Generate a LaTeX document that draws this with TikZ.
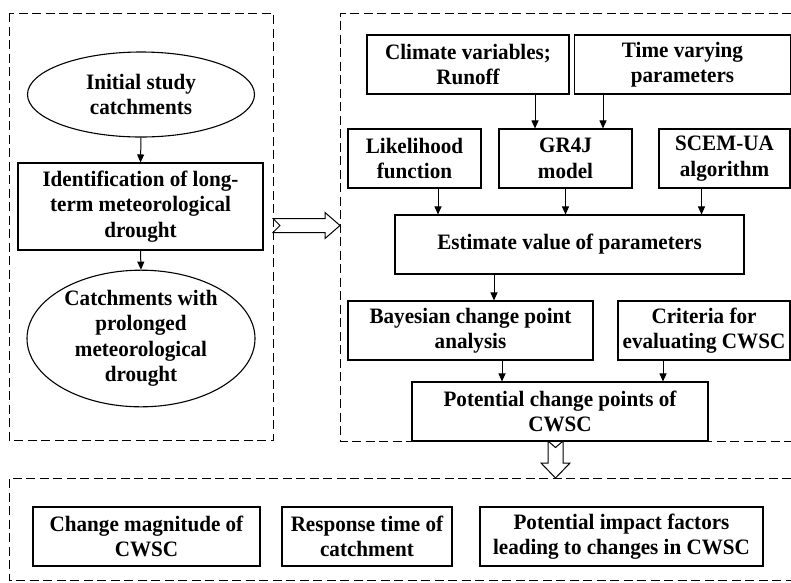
\documentclass[tikz,border=0pt]{standalone}
\usepackage{fontspec}
\setmainfont{Liberation Serif}[FakeStretch=0.96]
\usetikzlibrary{shapes.geometric,arrows.meta,calc}
\begin{document}
\begin{tikzpicture}[x=1pt,y=-1pt,
  every node/.style={font=\bfseries\fontsize{22}{25.5}\selectfont, align=center, inner sep=0pt},
  bx/.style={draw, line width=1.1pt, rectangle},
  el/.style={draw, line width=1.1pt, ellipse},
  grp/.style={draw, line width=1pt, dash pattern=on 9pt off 4.5pt},
  arr/.style={draw, line width=1pt, -{Triangle[length=8pt,width=7pt]}},
  hol/.style={draw, line width=1pt, fill=white, line join=miter}]
\useasboundingbox (0,0) rectangle (791,582);
% group frames
\draw[grp] (9,13) rectangle (273,440);
\draw[grp] (791,13) -| (340,441) -- (791,441);
\draw[grp] (791,478) -| (9,580) -- (791,580);
% left column
\node[el, minimum width=227pt, minimum height=85pt] (e1) at (141,94.5) {Initial study\\catchments};
\node[bx, minimum width=245pt, minimum height=87pt] (b1) at (140.5,206.5) {Identification of long-\\term meteorological\\drought};
\node[el, minimum width=228pt, minimum height=123pt] (e2) at (141,338.5) {Catchments with\\prolonged\\meteorological\\drought};
\draw[arr] (e1.south) -- (b1.north);
\draw[arr] (b1.south) -- (e2.north);
% right column
\node[bx, minimum width=202pt, minimum height=59pt] (clim) at (468,64.5) {Climate variables;\\Runoff};
\node[bx, minimum width=216pt, minimum height=59pt] (time) at (682.5,64.5) {Time varying\\parameters};
\node[bx, minimum width=133pt, minimum height=59pt] (like) at (414.5,158.5) {Likelihood\\function};
\node[bx, minimum width=133pt, minimum height=59pt] (gr) at (565.5,158.5) {GR4J\\model};
\node[bx, minimum width=131pt, minimum height=59pt] (scem) at (724.5,158.5) {SCEM-UA\\algorithm};
\node[bx, minimum width=349pt, minimum height=59pt] (est) at (569.5,244.5) {Estimate value of parameters};
\node[bx, minimum width=245pt, minimum height=59pt] (bay) at (470.5,330.5) {Bayesian change point\\analysis};
\node[bx, minimum width=172pt, minimum height=59pt] (crit) at (704,330.5) {Criteria for\\evaluating CWSC};
\node[bx, minimum width=296pt, minimum height=59pt] (pot) at (560,411.5) {Potential change points of\\CWSC};
\draw[arr] ([xshift=67pt]clim.south) -- ([xshift=67pt]clim.south |- gr.north);
\draw[arr] ([xshift=-79.5pt]time.south) -- ([xshift=-79.5pt]time.south |- gr.north);
\draw[arr] ([xshift=23.5pt]like.south) -- ([xshift=23.5pt]like.south |- est.north);
\draw[arr] (gr.south) -- (gr.south |- est.north);
\draw[arr] ([xshift=-23pt]scem.south) -- ([xshift=-23pt]scem.south |- est.north);
\draw[arr] ([xshift=-75.5pt]est.south) -- ([xshift=-75.5pt]est.south |- bay.north);
\draw[arr] ([xshift=31.5pt]bay.south) -- ([xshift=31.5pt]bay.south |- pot.north);
\draw[arr] ([xshift=-41pt]crit.south) -- ([xshift=-41pt]crit.south |- pot.north);
% bottom row
\node[bx, minimum width=227pt, minimum height=59pt] (chg) at (146.5,536.5) {Change magnitude of\\CWSC};
\node[bx, minimum width=170pt, minimum height=59pt] (resp) at (367,536.5) {Response time of\\catchment};
\node[bx, minimum width=283pt, minimum height=59pt] (imp) at (621.5,536.5) {Potential impact factors\\leading to changes in CWSC};
% hollow arrows
\coordinate (ha) at (273,225.5);
\draw[hol] (ha) ++(0,-7) -- ++(52,0) -- ++(0,-6) -- ++(15,13) -- ++(-15,13) -- ++(0,-6) -- ++(-52,0) -- ++(7,-7) -- cycle;
\coordinate (hb) at (555.5,441);
\draw[hol] (hb) ++(-7.5,0) -- ++(0,22) -- ++(-7,0) -- ++(14.5,15) -- ++(14.5,-15) -- ++(-7,0) -- ++(0,-22) -- ++(-7.5,6.5) -- cycle;
\end{tikzpicture}
\end{document}
